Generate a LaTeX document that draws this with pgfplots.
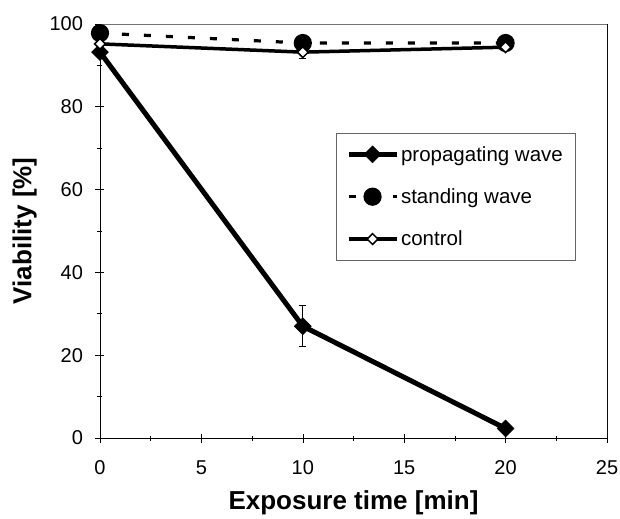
\documentclass[border=0pt]{standalone}
\usepackage{pgfplots}
\pgfplotsset{compat=1.18}
\usepackage{fontspec}
\setmainfont{Liberation Sans}

\begin{document}
\begin{tikzpicture}[x=1bp,y=1bp]
\begin{axis}[
  scale only axis,
  width=507bp, height=414bp,
  xmin=0, xmax=25, ymin=0, ymax=100,
  xtick={0,5,...,25}, ytick={0,20,...,100},
  minor x tick num=1, minor y tick num=1,
  xtick pos=bottom, ytick pos=left,
  tick align=center,
  major tick length=9bp, minor tick length=5bp,
  tick style={black, line width=0.6bp},
  axis line style={line width=0.8bp},
  separate axis lines,
  /pgf/number format/assume math mode=true,
  tick label style={font=\fontsize{20bp}{23bp}\selectfont},
  xticklabel style={yshift=-15bp},
  yticklabel style={xshift=-9bp},
  xlabel={\bfseries Exposure time [min]},
  ylabel={\bfseries Viability [\%]},
  label style={font=\fontsize{26bp}{29bp}\selectfont},
  xlabel style={yshift=-11bp, inner sep=1bp},
  ylabel style={yshift=6bp},
  legend style={at={(0.465,0.737)}, anchor=north west,
    draw=black!60, line width=0.6bp,
    font=\fontsize{20.5bp}{24bp}\selectfont,
    inner xsep=10bp, inner ysep=11bp,
    row sep=22bp, column sep=0bp, cells={anchor=west}},
  legend cell align=left,
  legend image code/.code={
    \draw[mark repeat=2, mark phase=2] plot coordinates {(0bp,0bp) (24bp,0bp) (48bp,0bp)};},
]
\coordinate (sw) at (rel axis cs:0,0);
\draw[black!55, line width=0.8bp] (rel axis cs:0,1) -- (rel axis cs:1,1) -- (rel axis cs:1,0);

\addplot[black, line width=5bp, mark=square*, mark size=6bp,
  mark options={solid, rotate=45, line width=0.5bp},
  error bars/.cd, y dir=both, y explicit,
  error bar style={line width=1bp}, error mark options={rotate=90, mark size=3.5bp, line width=1bp}]
  coordinates {(0,93.2) (10,27) +- (0,5) (20,2.3)};
\addlegendentry{propagating wave}

\addplot[black, line width=3.2bp, dash pattern=on 7bp off 15bp, mark=*, mark size=7.5bp,
  mark options={solid}]
  coordinates {(0,97.8) (10,95.4) (20,95.4)};
\addlegendentry{standing wave}

\addplot[black, line width=3.5bp, mark=square*, mark size=3.8bp,
  mark options={solid, rotate=45, fill=white, line width=1.5bp},
  error bars/.cd, y dir=both, y explicit,
  error bar style={line width=1bp}, error mark options={rotate=90, mark size=3.5bp, line width=1bp}]
  coordinates {(0,95.2) (10,93.2) +- (0,1.5) (20,94.4)};
\addlegendentry{control}
\end{axis}
\pgfresetboundingbox
\path (sw) ++(-100bp,-81bp) rectangle ++(620bp,519bp);
\end{tikzpicture}
\end{document}
